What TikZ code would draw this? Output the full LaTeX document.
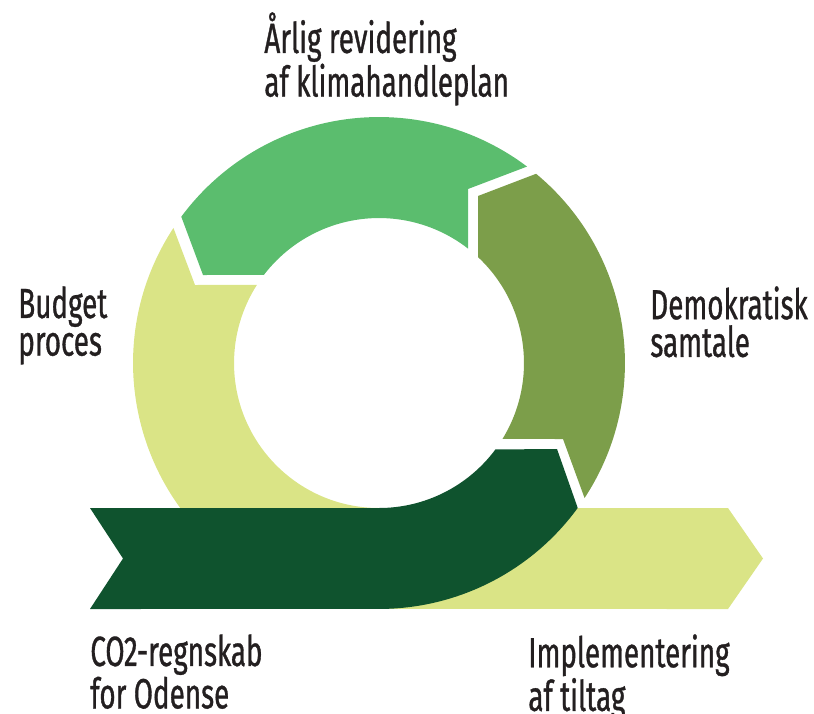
\documentclass[tikz,border=0pt]{standalone}
\usepackage{fontspec}
\setmainfont{Fira Sans}[FakeStretch=0.66,FakeBold=0.8]
\definecolor{ringgreen}{HTML}{5BBD6E}
\definecolor{ringolive}{HTML}{7C9E4A}
\definecolor{ringlight}{HTML}{DAE486}
\definecolor{ringdark}{HTML}{0F532E}
\definecolor{labeltext}{HTML}{231F20}
\tikzset{
  lbl/.style={anchor=north west, inner sep=0pt, align=left, text=labeltext,
    font=\fontsize{24}{21.4}\selectfont}
}
\begin{document}
\begin{tikzpicture}[x=0.02cm,y=0.02cm]
\useasboundingbox (0,0) rectangle (814,-713);
\begin{scope}[shift={(379,-363)}]
  % light band: Budget proces -> Implementering
  \fill[ringlight] (146.7:4.92cm) arc[start angle=146.7, end angle=270, radius=4.92cm]
    -- (349,-246) -- (384,-195.5) -- (349,-145) -- (0,-145)
    arc[start angle=270, end angle=147.4, radius=2.9cm] -- (-184,78) -- cycle;
  % dark band: CO2-regnskab
  \fill[ringdark] (-289,-145) -- (0,-145) arc[start angle=270, end angle=323.4, radius=2.9cm]
    -- (178,-86) -- (323.9:4.92cm) arc[start angle=323.9, end angle=270, radius=4.92cm]
    -- (-289,-246) -- (-256,-195.5) -- cycle;
  % olive: Demokratisk samtale
  \fill[ringolive] (50.3:4.92cm) -- (99,167) -- (46.9:2.9cm)
    arc[start angle=46.9, end angle=-31.6, radius=2.9cm] -- (184,-76) -- (-33.3:4.92cm)
    arc[start angle=-33.3, end angle=50.3, radius=4.92cm] -- cycle;
  % green: Aarlig revidering
  \fill[ringgreen] (53:4.92cm) arc[start angle=53, end angle=143.5, radius=4.92cm]
    -- (-176,88) -- (142.6:2.9cm) arc[start angle=142.6, end angle=52.1, radius=2.9cm]
    -- (89,174) -- cycle;
\end{scope}
\node[lbl] (revid) at (264,-12) {Årlig revidering\\af klimahandleplan};
\node[lbl] (budget) at (18,-286) {Budget\\proces};
\node[lbl] (demo) at (650,-286) {Demokratisk\\samtale};
\node[lbl] (co2) at (90,-634) {CO2-regnskab\\for Odense};
\node[lbl] (impl) at (528,-634) {Implementering\\af tiltag};
\end{tikzpicture}
\end{document}
